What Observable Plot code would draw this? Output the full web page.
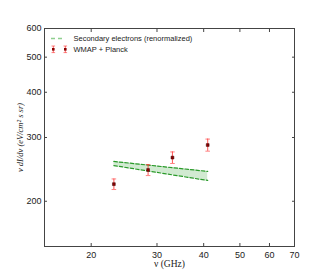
<!DOCTYPE html>
<html><head><meta charset="utf-8">
<script src="https://cdn.jsdelivr.net/npm/d3@7"></script>
<script src="https://cdn.jsdelivr.net/npm/@observablehq/plot@0.6"></script>
<style>body{margin:0;background:#fff;} #chart{position:relative;width:320px;height:280px;}</style>
</head><body><div id="chart"></div>
<script>
const freq = [23, 28.4, 33, 41];
const flux = [223, 244, 264, 286];
const fluxErr = [7.5, 8.5, 9.7, 11];
const bandFreq = [23, 41];
const bandUpper = [257.6, 241.8];
const bandLower = [251, 228.3];
const xTicks = [20, 30, 40, 50, 60, 70];
const yTicks = [200, 300, 400, 500, 600];

const pts = freq.map((f, i) => ({f, v: flux[i], e: fluxErr[i]}));
const band = bandFreq.map((f, i) => ({f, hi: bandUpper[i], lo: bandLower[i]}));

const capSymbol = {draw(ctx, size) { const w = Math.sqrt(size) / 2; ctx.moveTo(-w, 0); ctx.lineTo(w, 0); }};
const green = "#2a9a2a";
const sans = "Liberation Sans, Arial, sans-serif";
const serif = "Liberation Serif, DejaVu Serif, serif";

const chart = Plot.plot({
  width: 320, height: 280,
  marginLeft: 44, marginRight: 26, marginTop: 28, marginBottom: 34,
  x: {type: "log", domain: [15, 70]},
  y: {type: "log", domain: [150, 600]},
  style: {fontFamily: sans, fontSize: "9px", background: "white", color: "#222"},
  marks: [
    Plot.areaY(band, {x: "f", y1: "lo", y2: "hi", fill: "#2ca02c", fillOpacity: 0.22}),
    Plot.line(band, {x: "f", y: "hi", stroke: green, strokeDasharray: "3.5,2", strokeWidth: 1.2}),
    Plot.line(band, {x: "f", y: "lo", stroke: green, strokeDasharray: "3.5,2", strokeWidth: 1.2}),
    Plot.ruleX(pts, {x: "f", y1: d => d.v - d.e, y2: d => d.v + d.e, stroke: "#ff3030", strokeOpacity: 0.75, strokeWidth: 1.1}),
    Plot.dot(pts, {x: "f", y: d => d.v + d.e, symbol: capSymbol, r: 2.6, stroke: "#ff3030", strokeOpacity: 0.6, strokeWidth: 1}),
    Plot.dot(pts, {x: "f", y: d => d.v - d.e, symbol: capSymbol, r: 2.6, stroke: "#ff3030", strokeOpacity: 0.6, strokeWidth: 1}),
    Plot.dot(pts, {x: "f", y: "v", symbol: "square", r: 1.6, fill: "#8b0000", stroke: "#3a0000", strokeWidth: 0.5}),
    Plot.frame({stroke: "#444"}),
    Plot.axisX({ticks: xTicks, anchor: "bottom", tickSize: -3, text: null, label: null, stroke: "#444"}),
    Plot.axisX({ticks: xTicks, anchor: "top", tickSize: -3, text: null, label: null, stroke: "#444"}),
    Plot.axisX({ticks: xTicks, anchor: "bottom", tickSize: 0, tickPadding: 5, tickFormat: d => String(d), label: null, fontSize: 9}),
    Plot.axisX({ticks: xTicks, anchor: "bottom", tickSize: 0, text: null, label: "ν (GHz)", labelArrow: "none", labelAnchor: "center", labelOffset: 20, fontFamily: serif, fontSize: 9.5}),
    Plot.axisY({ticks: yTicks, anchor: "left", tickSize: -3, text: null, label: null, stroke: "#444"}),
    Plot.axisY({ticks: yTicks, anchor: "right", tickSize: -3, text: null, label: null, stroke: "#444"}),
    Plot.axisY({ticks: yTicks, anchor: "left", tickSize: 0, tickPadding: 3, tickFormat: d => String(d), label: null, fontSize: 9}),
    Plot.axisY({ticks: yTicks, anchor: "left", tickSize: 0, text: null, label: "ν dI/dν (eV/cm² s sr)", labelArrow: "none", labelAnchor: "center", labelOffset: 28, fontFamily: serif, fontStyle: "italic", fontSize: 8.5})
  ]
});
document.getElementById("chart").appendChild(chart);

// legend inside plot frame
const svg = d3.select(chart);
const lg = svg.append("g").attr("font-family", sans).attr("font-size", "7.5px").attr("fill", "#222").attr("text-anchor", "start");
lg.append("line").attr("x1", 51).attr("x2", 65).attr("y1", 38.5).attr("y2", 38.5)
  .attr("stroke", "#8fcf8f").attr("stroke-width", 1.5).attr("stroke-dasharray", "4,3");
lg.append("text").attr("x", 73.5).attr("y", 41).attr("text-anchor", "start").text("Secondary electrons (renormalized)");
[53.3, 65.3].forEach(cx => {
  lg.append("line").attr("x1", cx).attr("x2", cx).attr("y1", 46).attr("y2", 52.6).attr("stroke", "#ff3030").attr("stroke-opacity", 0.75);
  [46, 52.6].forEach(cy => lg.append("line").attr("x1", cx - 1.8).attr("x2", cx + 1.8).attr("y1", cy).attr("y2", cy).attr("stroke", "#ff3030").attr("stroke-opacity", 0.6));
  lg.append("rect").attr("x", cx - 1.3).attr("y", 48).attr("width", 2.6).attr("height", 2.6).attr("fill", "#8b0000").attr("stroke", "none");
});
lg.append("text").attr("x", 73.5).attr("y", 52).attr("text-anchor", "start").text("WMAP + Planck");
</script></body></html>
